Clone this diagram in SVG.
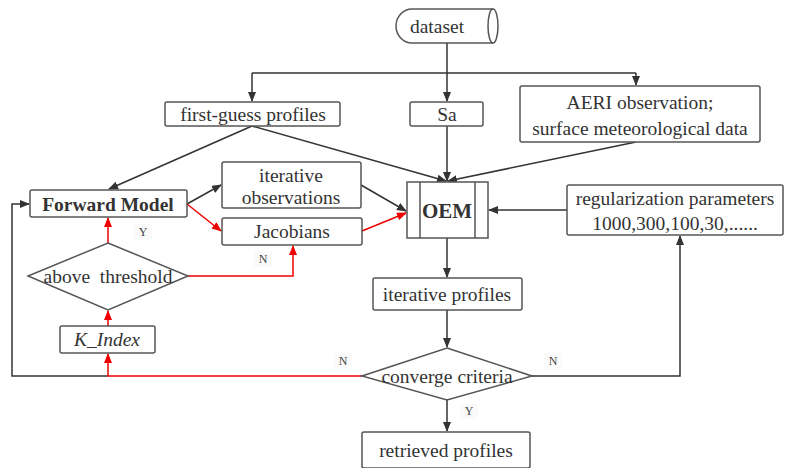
<svg xmlns="http://www.w3.org/2000/svg" width="786" height="468" viewBox="0 0 786 468">
<defs>
<marker id="ab" markerWidth="10" markerHeight="8" refX="9" refY="4" orient="auto" markerUnits="userSpaceOnUse"><path d="M0,0 L10,4 L0,8 Z" fill="#333"/></marker>
<marker id="ar" markerWidth="10" markerHeight="8" refX="9" refY="4" orient="auto" markerUnits="userSpaceOnUse"><path d="M0,0 L10,4 L0,8 Z" fill="#e00"/></marker>
</defs>
<style>
.n{fill:#fff;stroke:#555;stroke-width:1.5}
.t{font-family:"Liberation Serif","Times New Roman",serif;font-size:19.5px;fill:#333;text-anchor:middle}
.b{stroke:#333;stroke-width:1.5;fill:none}
.r{stroke:#e00;stroke-width:1.5;fill:none}
.l{font-family:"Liberation Serif","Times New Roman",serif;font-size:12px;fill:#444;text-anchor:middle}
.lb{fill:#fafafa}
</style>
<rect width="786" height="468" fill="#fff"/>
<g id="connectors">
<path class="b" d="M447,43 V101" marker-end="url(#ab)"/>
<path class="b" d="M252,73 H636"/>
<path class="b" d="M252,73 V101" marker-end="url(#ab)"/>
<path class="b" d="M636,73 V85" marker-end="url(#ab)"/>
<path class="b" d="M252,126 L109,189" marker-end="url(#ab)"/>
<path class="b" d="M252,126 L446,181" marker-end="url(#ab)"/>
<path class="b" d="M447,126 V181" marker-end="url(#ab)"/>
<path class="b" d="M636,142 L448,181" marker-end="url(#ab)"/>
<path class="b" d="M187,204 L221,185" marker-end="url(#ab)"/>
<path class="r" d="M187,204 L221,231" marker-end="url(#ar)"/>
<path class="b" d="M361,185 L406,211" marker-end="url(#ab)"/>
<path class="r" d="M362,231 L406,213" marker-end="url(#ar)"/>
<path class="b" d="M567,210 H489" marker-end="url(#ab)"/>
<path class="b" d="M447,238 V277" marker-end="url(#ab)"/>
<path class="b" d="M447,310 V347" marker-end="url(#ab)"/>
<path class="b" d="M447,400 V431" marker-end="url(#ab)"/>
<path class="b" d="M108,376 H12 V204 H29" marker-end="url(#ab)"/>
<path class="r" d="M362,376 H108 V354" marker-end="url(#ar)"/>
<path class="b" d="M532,376 H680 V236" marker-end="url(#ab)"/>
<path class="r" d="M108,326 V311" marker-end="url(#ar)"/>
<path class="r" d="M108,243 V218" marker-end="url(#ar)"/>
<path class="r" d="M188,276 H293 V246" marker-end="url(#ar)"/>
<rect class="lb" x="134" y="224" width="18" height="16"/>
<text class="l" x="143" y="236">Y</text>
<rect class="lb" x="254" y="251" width="18" height="16"/>
<text class="l" x="263" y="263">N</text>
<rect class="lb" x="334" y="353" width="18" height="16"/>
<text class="l" x="343" y="365">N</text>
<rect class="lb" x="544" y="353" width="18" height="16"/>
<text class="l" x="553" y="365">N</text>
<rect class="lb" x="460" y="403" width="18" height="16"/>
<text class="l" x="469" y="415">Y</text>
</g>
<g id="dataset">
<path class="n" d="M412,9 H493 A5,17 0 0 1 493,43 H412 A16,17 0 0 1 412,9 Z"/>
<path class="b" style="stroke:#555" d="M493,9 A5,17 0 0 0 493,43"/>
<text class="t" x="437" y="33">dataset</text>
</g>
<g id="first-guess">
<rect class="n" x="165" y="102" width="175" height="24" rx="2"/>
<text class="t" x="253" y="121">first-guess profiles</text>
</g>
<g id="sa">
<rect class="n" x="410" y="102" width="73" height="24" rx="2"/>
<text class="t" x="447" y="121">Sa</text>
</g>
<g id="aeri">
<rect class="n" x="520" y="86" width="240" height="56" rx="2"/>
<text class="t" x="640" y="109">AERI observation;</text>
<text class="t" x="640" y="135">surface meteorological data</text>
</g>
<g id="forward-model">
<rect class="n" x="30" y="190" width="157" height="27" rx="2"/>
<text class="t" x="108" y="211" style="font-weight:bold">Forward Model</text>
</g>
<g id="iterative-observations">
<rect class="n" x="222" y="162" width="139" height="46" rx="2"/>
<text class="t" x="291" y="182">iterative</text>
<text class="t" x="291" y="204">observations</text>
</g>
<g id="jacobians">
<rect class="n" x="222" y="218" width="140" height="27" rx="2"/>
<text class="t" x="292" y="238">Jacobians</text>
</g>
<g id="oem">
<rect class="n" x="407" y="182" width="81" height="56"/>
<path class="b" style="stroke:#555" d="M420,182 V238 M475,182 V238"/>
<text class="t" x="447" y="218" style="font-weight:bold;font-size:21px">OEM</text>
</g>
<g id="regularization">
<rect class="n" x="567" y="185" width="216" height="50" rx="2"/>
<text class="t" x="675" y="205">regularization parameters</text>
<text class="t" x="675" y="230">1000,300,100,30,......</text>
</g>
<g id="above-threshold">
<polygon class="n" points="108,243 188,276 108,310 28,276"/>
<text class="t" x="108" y="283" style="white-space:pre">above  threshold</text>
</g>
<g id="k-index">
<rect class="n" x="60" y="326" width="95" height="27" rx="2"/>
<text class="t" x="107" y="346" style="font-style:italic">K_Index</text>
</g>
<g id="iterative-profiles">
<rect class="n" x="373" y="278" width="149" height="32" rx="2"/>
<text class="t" x="447" y="301">iterative profiles</text>
</g>
<g id="converge">
<polygon class="n" points="447,348 532,376 447,400 362,376"/>
<text class="t" x="447" y="383">converge criteria</text>
</g>
<g id="retrieved">
<rect class="n" x="362" y="432" width="168" height="36" rx="2"/>
<text class="t" x="446" y="457">retrieved profiles</text>
</g>
</svg>
